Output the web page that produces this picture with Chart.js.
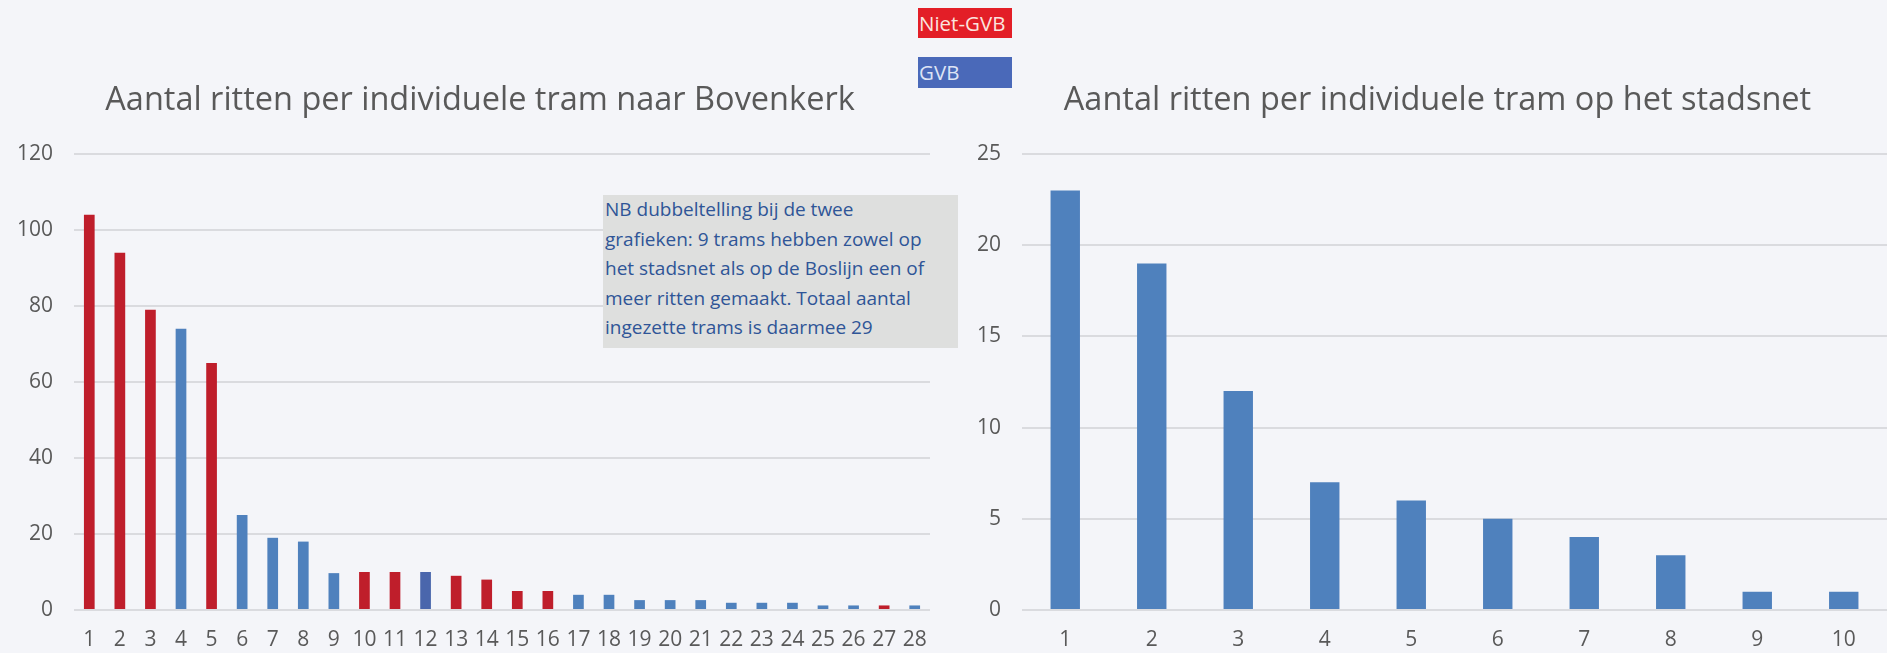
<!DOCTYPE html>
<html>
<head>
<meta charset="utf-8">
<script src="https://cdn.jsdelivr.net/npm/chart.js@4/dist/chart.umd.min.js"></script>
<style>
  html, body { margin: 0; padding: 0; background: #F4F5F9; }
  body { width: 1887px; height: 653px; position: relative; overflow: hidden; font-family: 'Open Sans', sans-serif; }
  canvas { position: absolute; top: 0; }
  #left { left: 0; }
  #right { left: 940px; }
  .tag { position: absolute; left: 918px; width: 94px; height: 30px; line-height: 30px; font-size: 20.5px; padding-left: 1px; box-sizing: border-box; white-space: nowrap; }
  #niet { top: 8px; background: #E31E27; color: #FBE3DE; }
  #gvb { top: 57px; height: 31px; background: #4A69B9; color: #DDE3F5; }
  #note { position: absolute; left: 603px; top: 195px; width: 355px; height: 153px; background: #DEDFDE; color: #2F5597;
          font-size: 19px; line-height: 29.5px; padding: 0 0 0 2px; box-sizing: border-box; white-space: nowrap; }
</style>
</head>
<body>
<canvas id="left" width="960" height="653"></canvas>
<canvas id="right" width="947" height="653"></canvas>
<div class="tag" id="niet">Niet-GVB</div>
<div class="tag" id="gvb">GVB</div>
<div id="note">NB dubbeltelling bij de twee<br>grafieken: 9 trams hebben zowel op<br>het stadsnet als op de Boslijn een of<br>meer ritten gemaakt. Totaal aantal<br>ingezette trams is daarmee 29</div>
<script>
// Boslijn (naar Bovenkerk)
const boslijnTrams = ['1','2','3','4','5','6','7','8','9','10','11','12','13','14',
                      '15','16','17','18','19','20','21','22','23','24','25','26','27','28'];
const boslijnRitten = [104, 94, 79, 74, 65, 25, 19, 18, 9.7, 10, 10, 10, 9, 8,
                       5, 5, 4, 4, 2.6, 2.6, 2.6, 1.9, 1.9, 1.9, 1.2, 1.2, 1.2, 1.2];
// N = Niet-GVB, G = GVB, g = GVB (donkere tint)
const boslijnOperator = ['N','N','N','G','N','G','G','G','G','N','N','g','N','N',
                         'N','N','G','G','G','G','G','G','G','G','G','G','N','G'];

// stadsnet
const stadsnetTrams = ['1','2','3','4','5','6','7','8','9','10'];
const stadsnetRitten = [23, 19, 12, 7, 6, 5, 4, 3, 1, 1];

const boslijnTicks = [0, 20, 40, 60, 80, 100, 120];
const stadsnetTicks = [0, 5, 10, 15, 20, 25];

const colors = { N: '#BF1E2B', G: '#4F81BD', g: '#4A66AC' };

Chart.defaults.font.family = "'Open Sans', sans-serif";
Chart.defaults.color = '#595959';

// title drawn at a fixed centre, independent of the axis box
const titleAt = {
  id: 'titleAt',
  afterDraw(chart, args, opts) {
    const ctx = chart.ctx;
    ctx.save();
    ctx.font = "normal 32.5px 'Open Sans', sans-serif";
    ctx.fillStyle = '#595959';
    ctx.textAlign = 'center';
    ctx.textBaseline = 'middle';
    ctx.fillText(opts.text, opts.x, opts.y);
    ctx.restore();
  }
};

function makeChart(id, title, titleX, labels, values, barColors, ticks, yWidth, padRight, barPct) {
  const ctx = document.getElementById(id);
  return new Chart(ctx, {
    type: 'bar',
    data: {
      labels: labels,
      datasets: [{ data: values, backgroundColor: barColors, borderWidth: 0,
                   barPercentage: barPct, categoryPercentage: 1 }]
    },
    plugins: [titleAt],
    options: {
      responsive: false,
      animation: false,
      devicePixelRatio: 1,
      layout: { padding: { top: 154, right: padRight, left: 0, bottom: 0 } },
      plugins: {
        legend: { display: false },
        tooltip: { enabled: false },
        titleAt: { text: title, x: titleX, y: 101 }
      },
      scales: {
        x: {
          grid: { display: false },
          border: { display: false },
          ticks: { font: { size: 21 }, padding: 9, maxRotation: 0, autoSkip: false },
          afterFit: s => { s.height = 43; }
        },
        y: {
          min: ticks[0],
          max: ticks[ticks.length - 1],
          afterBuildTicks: s => { s.ticks = ticks.map(v => ({ value: v })); },
          grid: { color: '#DADBDF', lineWidth: 2, drawTicks: false },
          border: { display: false },
          ticks: { font: { size: 21 }, padding: 21 },
          afterFit: s => { s.width = yWidth; }
        }
      }
    }
  });
}

makeChart('left', 'Aantal ritten per individuele tram naar Bovenkerk', 480,
  boslijnTrams, boslijnRitten, boslijnOperator.map(o => colors[o]), boslijnTicks, 74, 30, 0.35);
makeChart('right', 'Aantal ritten per individuele tram op het stadsnet', 497.5,
  stadsnetTrams, stadsnetRitten, stadsnetTrams.map(() => colors.G), stadsnetTicks, 82, 0, 0.34);
</script>
</body>
</html>
